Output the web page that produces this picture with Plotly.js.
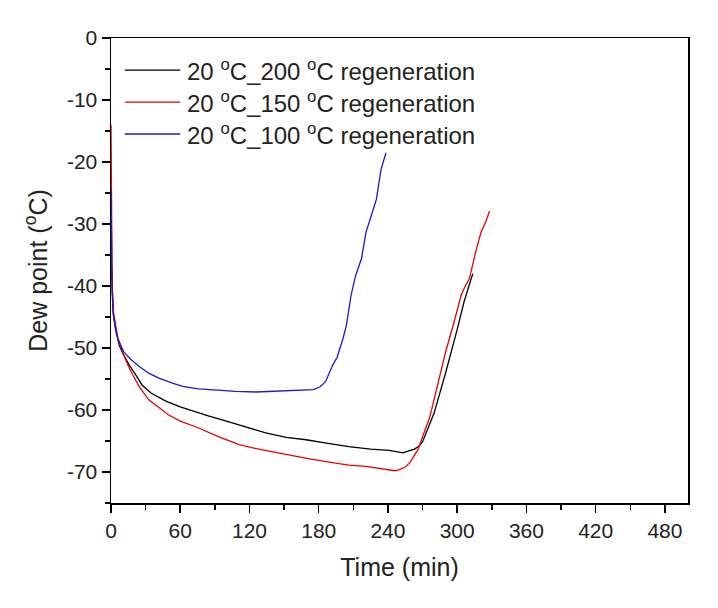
<!DOCTYPE html>
<html>
<head>
<meta charset="utf-8">
<script src="https://cdn.plot.ly/plotly-3.0.1.min.js"></script>
<style>html,body{margin:0;padding:0;background:#fff;}</style>
</head>
<body>
<div id="chart" style="width:718px;height:608px;"></div>
<script>
// Data
const seriesNames = [
  "20 <sup>o</sup>C_200 <sup>o</sup>C regeneration",
  "20 <sup>o</sup>C_150 <sup>o</sup>C regeneration",
  "20 <sup>o</sup>C_100 <sup>o</sup>C regeneration"
];

const tBlack = [0, 0.5, 1, 2, 4, 7, 10, 16, 22, 27, 35, 48, 60, 71, 85, 100, 117, 134, 152, 169, 188, 206, 225, 241, 247, 253, 258, 263, 267, 270, 280, 290, 300, 306, 313.5];
const yBlack = [-35, -38, -41, -44.5, -47, -49.5, -50.8, -52.8, -54.5, -56, -57.3, -58.6, -59.5, -60.2, -61, -61.8, -62.8, -63.7, -64.4, -64.8, -65.4, -65.9, -66.3, -66.5, -66.7, -66.9, -66.6, -66.3, -65.8, -65.1, -60.5, -54, -47, -42.5, -38];

const tRed = [0, 0.5, 1, 2, 4, 6, 10, 14, 19, 25, 33, 42, 50, 60, 76, 93, 111, 130, 152, 172, 192, 206, 221, 232, 241, 246, 250, 255, 259, 262, 266, 271, 276, 283, 290, 297, 303.4, 307, 310.6, 316, 320.7, 325, 328];
const yRed = [-14, -30, -40, -44, -46.5, -48.5, -50.6, -52.5, -54.4, -56.4, -58.4, -59.7, -60.8, -61.8, -62.9, -64.3, -65.6, -66.4, -67.2, -67.9, -68.5, -68.9, -69.1, -69.4, -69.6, -69.8, -69.6, -69.2, -68.5, -67.6, -66.4, -63.8, -61.3, -56, -50.6, -46, -41.5, -40, -38.8, -34.5, -31.3, -29.5, -27.9];

const tBlue = [0, 0.5, 1, 2, 4, 6, 11, 17, 24.5, 33, 42, 52, 62, 76, 91, 108, 126, 145, 163, 175, 181, 186, 192, 196, 201, 204, 208, 212, 217, 221, 225, 230, 234, 238.3];
const yBlue = [-24.4, -34, -41, -44.5, -47, -48.5, -50.6, -51.8, -53, -54.1, -54.9, -55.6, -56.2, -56.6, -56.8, -57, -57.1, -56.9, -56.8, -56.7, -56.3, -55.4, -52.8, -51.5, -48.5, -46.3, -41.5, -38.3, -35.6, -31.3, -29, -26, -21.2, -18.5];

const xTicks = [0, 60, 120, 180, 240, 300, 360, 420, 480];
const yTicks = [0, -10, -20, -30, -40, -50, -60, -70];

const colors = ["#000000", "#ee0000", "#1a1acc"];
const FONT = "Liberation Sans, Arial, sans-serif";
const TEXT = "#222";

const traces = [
  {x: tBlack, y: yBlack, name: seriesNames[0]},
  {x: tRed, y: yRed, name: seriesNames[1]},
  {x: tBlue, y: yBlue, name: seriesNames[2]}
].map((tr, i) => Object.assign(tr, {
  type: "scatter", mode: "lines", showlegend: false,
  line: {color: colors[i], width: 1.3}
}));

// Legend drawn as paper-positioned swatches + labels (styling, not data)
const legendRows = [0.931, 0.862, 0.7935];
const shapes = legendRows.map((yy, i) => ({
  type: "line", xref: "paper", yref: "paper",
  x0: 0.024, x1: 0.12, y0: yy, y1: yy,
  line: {color: colors[i], width: 1.3}
}));
const annotations = legendRows.map((yy, i) => ({
  xref: "paper", yref: "paper", x: 0.128, y: yy,
  xanchor: "left", yanchor: "middle", showarrow: false,
  text: seriesNames[i],
  font: {family: FONT, size: 24, color: TEXT}
}));

const axisCommon = {
  showline: true, linecolor: "#000", linewidth: 1.5, mirror: true,
  showgrid: false, zeroline: false,
  ticks: "outside", ticklen: 8, tickwidth: 1.5, tickcolor: "#000",
  tickfont: {family: FONT, size: 21, color: TEXT}
};

const layout = {
  width: 718, height: 608,
  margin: {l: 111, r: 30, t: 38, b: 105},
  paper_bgcolor: "#fff", plot_bgcolor: "#fff",
  font: {family: FONT, color: TEXT},
  showlegend: false,
  shapes: shapes,
  annotations: annotations,
  xaxis: Object.assign({}, axisCommon, {
    range: [0, 500],
    tickvals: xTicks, ticktext: xTicks.map(String),
    minor: {dtick: 30, tick0: 0, ticks: "outside", ticklen: 5, tickwidth: 1.5, tickcolor: "#000"},
    title: {text: "Time (min)", font: {family: FONT, size: 25, color: TEXT}, standoff: 18}
  }),
  yaxis: Object.assign({}, axisCommon, {
    range: [-75, 0],
    tickvals: yTicks, ticktext: yTicks.map(String),
    minor: {dtick: 5, tick0: 0, ticks: "outside", ticklen: 5, tickwidth: 1.5, tickcolor: "#000"},
    title: {text: "Dew point (<sup>o</sup>C)", font: {family: FONT, size: 25, color: TEXT}, standoff: 12}
  })
};

Plotly.newPlot("chart", traces, layout, {displayModeBar: false, staticPlot: true});
</script>
</body>
</html>
